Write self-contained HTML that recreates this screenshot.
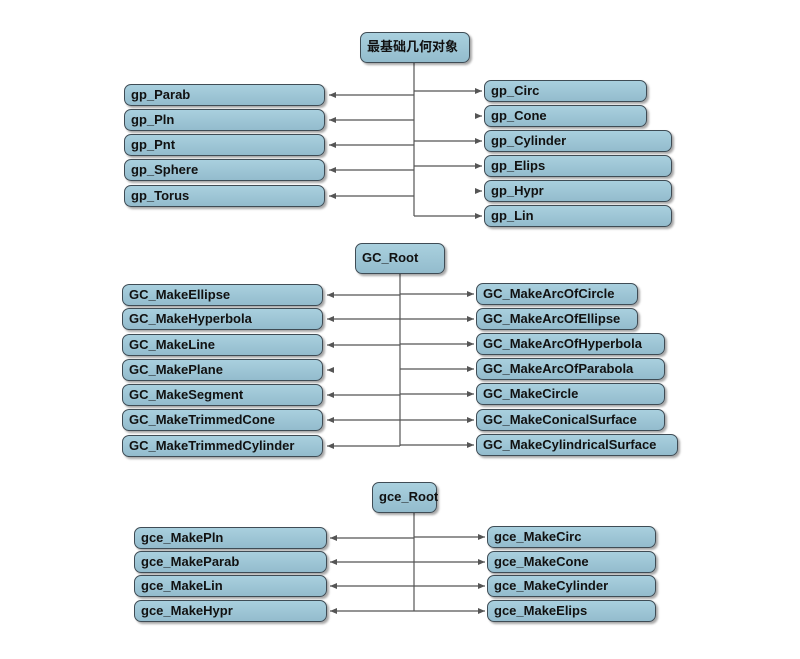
<!DOCTYPE html>
<html><head><meta charset="utf-8"><style>
body{margin:0;width:800px;height:659px;background:#fff;position:relative;overflow:hidden;font-family:"Liberation Sans","Noto Sans CJK SC",sans-serif}
.b{position:absolute;height:22px;box-sizing:border-box;border:1.3px solid #3f4c55;border-radius:7px;background:linear-gradient(#a9d0de,#93bccd);box-shadow:2px 2px 2px rgba(0,0,0,.35);font-weight:bold;font-size:13px;color:#111;line-height:20px;padding-left:6px;white-space:nowrap}
.r{height:31px;line-height:28px}
svg{position:absolute;left:0;top:0}
</style></head><body>
<svg width="800" height="659" stroke="#555" stroke-width="1.2" fill="none">
<defs><marker id="a" markerWidth="8" markerHeight="8" refX="7" refY="4" orient="auto" markerUnits="userSpaceOnUse"><path d="M0,1 L7,4 L0,7z" fill="#555" stroke="none"/></marker></defs>
<path d="M414,63V216"/>
<path d="M414,95H329" marker-end="url(#a)"/><path d="M414,120H329" marker-end="url(#a)"/><path d="M414,145H329" marker-end="url(#a)"/><path d="M414,170H329" marker-end="url(#a)"/><path d="M414,196H329" marker-end="url(#a)"/>
<path d="M414,91H482" marker-end="url(#a)"/><path d="M414,141H482" marker-end="url(#a)"/><path d="M414,166H482" marker-end="url(#a)"/><path d="M414,216H482" marker-end="url(#a)"/>
<path d="M476,116H482" marker-end="url(#a)"/><path d="M476,191H482" marker-end="url(#a)"/>
<path d="M400,274V446"/>
<path d="M400,295H327" marker-end="url(#a)"/><path d="M400,319H327" marker-end="url(#a)"/><path d="M400,345H327" marker-end="url(#a)"/><path d="M400,395H327" marker-end="url(#a)"/><path d="M400,420H327" marker-end="url(#a)"/><path d="M400,446H327" marker-end="url(#a)"/><path d="M333,370H327" marker-end="url(#a)"/>
<path d="M400,294H474" marker-end="url(#a)"/><path d="M400,319H474" marker-end="url(#a)"/><path d="M400,344H474" marker-end="url(#a)"/><path d="M400,369H474" marker-end="url(#a)"/><path d="M400,394H474" marker-end="url(#a)"/><path d="M400,420H474" marker-end="url(#a)"/><path d="M400,445H474" marker-end="url(#a)"/>
<path d="M414,513V611"/>
<path d="M414,538H330" marker-end="url(#a)"/><path d="M414,562H330" marker-end="url(#a)"/><path d="M414,586H330" marker-end="url(#a)"/><path d="M414,611H330" marker-end="url(#a)"/>
<path d="M414,537H485" marker-end="url(#a)"/><path d="M414,562H485" marker-end="url(#a)"/><path d="M414,586H485" marker-end="url(#a)"/><path d="M414,611H485" marker-end="url(#a)"/>
</svg>
<div class="b r" style="left:360px;top:32px;width:110px">最基础几何对象</div>
<div class="b" style="left:124px;top:84px;width:201px">gp_Parab</div>
<div class="b" style="left:124px;top:109px;width:201px">gp_Pln</div>
<div class="b" style="left:124px;top:134px;width:201px">gp_Pnt</div>
<div class="b" style="left:124px;top:159px;width:201px">gp_Sphere</div>
<div class="b" style="left:124px;top:185px;width:201px">gp_Torus</div>
<div class="b" style="left:484px;top:80px;width:163px">gp_Circ</div>
<div class="b" style="left:484px;top:105px;width:163px">gp_Cone</div>
<div class="b" style="left:484px;top:130px;width:188px">gp_Cylinder</div>
<div class="b" style="left:484px;top:155px;width:188px">gp_Elips</div>
<div class="b" style="left:484px;top:180px;width:188px">gp_Hypr</div>
<div class="b" style="left:484px;top:205px;width:188px">gp_Lin</div>
<div class="b r" style="left:355px;top:243px;width:90px">GC_Root</div>
<div class="b" style="left:122px;top:284px;width:201px">GC_MakeEllipse</div>
<div class="b" style="left:122px;top:308px;width:201px">GC_MakeHyperbola</div>
<div class="b" style="left:122px;top:334px;width:201px">GC_MakeLine</div>
<div class="b" style="left:122px;top:359px;width:201px">GC_MakePlane</div>
<div class="b" style="left:122px;top:384px;width:201px">GC_MakeSegment</div>
<div class="b" style="left:122px;top:409px;width:201px">GC_MakeTrimmedCone</div>
<div class="b" style="left:122px;top:435px;width:201px">GC_MakeTrimmedCylinder</div>
<div class="b" style="left:476px;top:283px;width:162px">GC_MakeArcOfCircle</div>
<div class="b" style="left:476px;top:308px;width:162px">GC_MakeArcOfEllipse</div>
<div class="b" style="left:476px;top:333px;width:189px">GC_MakeArcOfHyperbola</div>
<div class="b" style="left:476px;top:358px;width:189px">GC_MakeArcOfParabola</div>
<div class="b" style="left:476px;top:383px;width:189px">GC_MakeCircle</div>
<div class="b" style="left:476px;top:409px;width:189px">GC_MakeConicalSurface</div>
<div class="b" style="left:476px;top:434px;width:202px">GC_MakeCylindricalSurface</div>
<div class="b r" style="left:372px;top:482px;width:65px">gce_Root</div>
<div class="b" style="left:134px;top:527px;width:193px">gce_MakePln</div>
<div class="b" style="left:134px;top:551px;width:193px">gce_MakeParab</div>
<div class="b" style="left:134px;top:575px;width:193px">gce_MakeLin</div>
<div class="b" style="left:134px;top:600px;width:193px">gce_MakeHypr</div>
<div class="b" style="left:487px;top:526px;width:169px">gce_MakeCirc</div>
<div class="b" style="left:487px;top:551px;width:169px">gce_MakeCone</div>
<div class="b" style="left:487px;top:575px;width:169px">gce_MakeCylinder</div>
<div class="b" style="left:487px;top:600px;width:169px">gce_MakeElips</div>
</body></html>
